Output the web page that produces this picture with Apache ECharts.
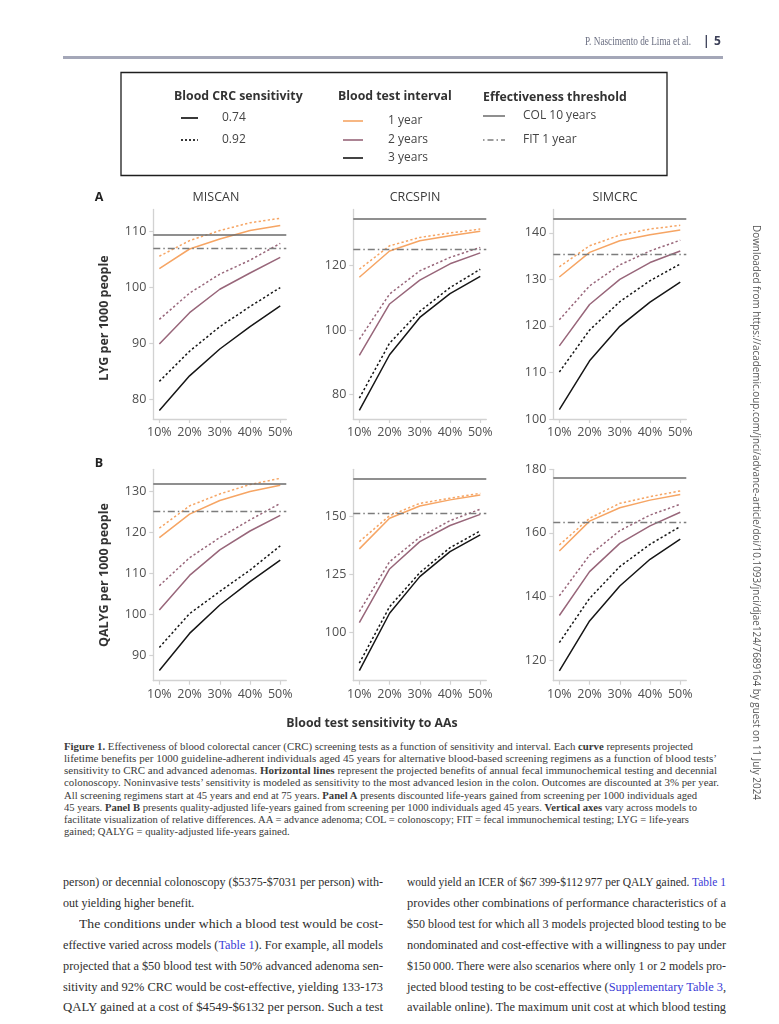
<!DOCTYPE html>
<html><head><meta charset="utf-8">
<script src="https://cdn.jsdelivr.net/npm/echarts@6/dist/echarts.min.js"></script>
<style>
html,body{margin:0;padding:0;background:#fff;}
#page{position:relative;width:779px;height:1024px;overflow:hidden;background:#fff;}
#chart{position:absolute;left:0;top:0;width:779px;height:740px;}
.ln{position:absolute;white-space:nowrap;transform-origin:0 50%;}
.lk{color:#3a3ad6;}
#bar{position:absolute;left:63px;top:56px;width:660px;height:3px;background:#a4a7b8;}
#side{position:absolute;white-space:nowrap;transform-origin:0 0;}
</style></head>
<body><div id="page"><div id="bar"></div><div id="chart"></div></div>
<script>
// ---------- data ----------
const sensitivityAA = [10, 20, 30, 40, 50];
const models = ['MISCAN', 'CRCSPIN', 'SIMCRC'];
const intervals = ['1 year', '2 years', '3 years'];
const crcSens = ['0.74', '0.92'];

// Panel A: LYG per 1000 people
const miscanLYG_1y_074 = [103.4, 106.9, 108.7, 110.2, 111.1];
const miscanLYG_1y_092 = [105.6, 108.4, 110.2, 111.6, 112.4];
const miscanLYG_2y_074 = [89.9, 95.5, 99.7, 102.6, 105.4];
const miscanLYG_2y_092 = [94.3, 99.0, 102.4, 104.9, 107.9];
const miscanLYG_3y_074 = [78.0, 84.2, 89.0, 93.0, 96.7];
const miscanLYG_3y_092 = [83.2, 88.6, 93.0, 96.6, 100.0];

const crcspinLYG_1y_074 = [116.4, 124.6, 127.8, 129.3, 130.7];
const crcspinLYG_1y_092 = [118.9, 126.2, 128.8, 130.2, 131.4];
const crcspinLYG_2y_074 = [92.1, 108.1, 115.5, 120.6, 124.0];
const crcspinLYG_2y_092 = [97.1, 111.2, 118.4, 122.6, 125.7];
const crcspinLYG_3y_074 = [75.0, 92.3, 103.9, 111.3, 116.7];
const crcspinLYG_3y_092 = [78.8, 95.9, 105.8, 113.2, 118.9];

const simcrcLYG_1y_074 = [130.5, 135.8, 138.3, 139.6, 140.6];
const simcrcLYG_1y_092 = [132.7, 137.2, 139.5, 140.8, 141.6];
const simcrcLYG_2y_074 = [115.7, 124.6, 130.0, 133.6, 136.1];
const simcrcLYG_2y_092 = [121.3, 128.6, 133.1, 136.1, 138.4];
const simcrcLYG_3y_074 = [102.0, 112.5, 119.9, 125.1, 129.4];
const simcrcLYG_3y_092 = [110.1, 119.1, 125.2, 129.7, 133.3];

const colLYG = [109.5, 134.7, 143.1];
const fitLYG = [107.1, 125.0, 135.3];

// Panel B: QALYG per 1000 people
const miscanQALYG_1y_074 = [118.7, 124.4, 127.7, 129.9, 131.4];
const miscanQALYG_1y_092 = [121.0, 126.4, 129.3, 131.6, 133.1];
const miscanQALYG_2y_074 = [101.1, 109.5, 115.7, 120.3, 124.1];
const miscanQALYG_2y_092 = [107.0, 113.8, 118.7, 123.0, 127.0];
const miscanQALYG_3y_074 = [86.4, 95.4, 102.3, 108.0, 113.2];
const miscanQALYG_3y_092 = [92.0, 100.2, 105.6, 110.8, 116.7];

const crcspinQALYG_1y_074 = [135.9, 149.0, 154.3, 156.9, 159.0];
const crcspinQALYG_1y_092 = [139.0, 150.1, 155.4, 157.6, 159.7];
const crcspinQALYG_2y_074 = [104.3, 127.3, 139.0, 145.9, 150.7];
const crcspinQALYG_2y_092 = [109.0, 130.4, 140.9, 148.0, 152.9];
const crcspinQALYG_3y_074 = [83.7, 108.3, 124.0, 134.7, 141.9];
const crcspinQALYG_3y_092 = [86.9, 111.1, 125.7, 136.4, 143.6];

const simcrcQALYG_1y_074 = [154.3, 163.7, 167.9, 170.3, 172.1];
const simcrcQALYG_1y_092 = [156.2, 164.6, 169.3, 171.4, 173.2];
const simcrcQALYG_2y_074 = [134.0, 147.8, 156.7, 162.2, 166.5];
const simcrcQALYG_2y_092 = [140.2, 153.0, 160.7, 165.6, 169.0];
const simcrcQALYG_3y_074 = [116.6, 132.3, 143.3, 151.7, 158.0];
const simcrcQALYG_3y_092 = [125.5, 139.4, 149.4, 156.4, 162.0];

const colQALYG = [131.7, 166.1, 177.2];
const fitQALYG = [125.1, 151.0, 163.3];

// axis ticks / ranges
const xTicks = [10, 20, 30, 40, 50];
const yTicksLYG = [[80, 90, 100, 110], [80, 100, 120], [100, 110, 120, 130, 140]];
const yTicksQALYG = [[90, 100, 110, 120, 130], [100, 125, 150], [120, 140, 160, 180]];
const yRangeLYG = [[76.47, 113.97], [72.3, 137.5], [100, 145]];
const yRangeQALYG = [[83.9, 135.3], [79.4, 170.0], [113.5, 180]];

// ---------- build ----------
const panelData = [
  [[miscanLYG_1y_074, miscanLYG_1y_092], [miscanLYG_2y_074, miscanLYG_2y_092], [miscanLYG_3y_074, miscanLYG_3y_092]],
  [[crcspinLYG_1y_074, crcspinLYG_1y_092], [crcspinLYG_2y_074, crcspinLYG_2y_092], [crcspinLYG_3y_074, crcspinLYG_3y_092]],
  [[simcrcLYG_1y_074, simcrcLYG_1y_092], [simcrcLYG_2y_074, simcrcLYG_2y_092], [simcrcLYG_3y_074, simcrcLYG_3y_092]],
  [[miscanQALYG_1y_074, miscanQALYG_1y_092], [miscanQALYG_2y_074, miscanQALYG_2y_092], [miscanQALYG_3y_074, miscanQALYG_3y_092]],
  [[crcspinQALYG_1y_074, crcspinQALYG_1y_092], [crcspinQALYG_2y_074, crcspinQALYG_2y_092], [crcspinQALYG_3y_074, crcspinQALYG_3y_092]],
  [[simcrcQALYG_1y_074, simcrcQALYG_1y_092], [simcrcQALYG_2y_074, simcrcQALYG_2y_092], [simcrcQALYG_3y_074, simcrcQALYG_3y_092]]
];
const colThr = colLYG.concat(colQALYG);
const fitThr = fitLYG.concat(fitQALYG);
const yTicks = yTicksLYG.concat(yTicksQALYG);
const yRange = yRangeLYG.concat(yRangeQALYG);

const FONT = "'Open Sans', 'Noto Sans', sans-serif";
const C_OR = '#f6a564', C_MA = '#98667a', C_BK = '#161616';
const C_COL = '#6a6a6a', C_FIT = '#7c7c7c';
const intervalColors = [C_OR, C_MA, C_BK];
const sensDash = ['solid', [2.3, 2.3]];
const FIT_DASH = [7, 3, 1.5, 3];
const AX = '#d2d2d2', LBL = '#4f4f4f';

const colLeft = [153.3, 353.3, 553.3];
const colW = 133;
const rowTop = [209.5, 469.3];
const rowH = [209.5, 211.4];

const grids = [], xAxes = [], yAxes = [], series = [];
for (let p = 0; p < 6; p++) {
  const r = Math.floor(p / 3), c = p % 3;
  grids.push({ left: colLeft[c], top: rowTop[r], width: colW, height: rowH[r], containLabel: false });
  xAxes.push({
    type: 'value', gridIndex: p, min: 8, max: 52,
    axisLine: { show: true, lineStyle: { color: AX, width: 1.3 } },
    axisTick: { show: true, length: 4, lineStyle: { color: AX, width: 1.2 }, customValues: xTicks },
    axisLabel: { show: true, customValues: xTicks, formatter: v => v + '%', color: LBL, fontSize: 12.5, fontFamily: FONT, margin: 7 },
    splitLine: { show: false }
  });
  yAxes.push({
    type: 'value', gridIndex: p, min: yRange[p][0], max: yRange[p][1],
    axisLine: { show: true, lineStyle: { color: AX, width: 1.3 } },
    axisTick: { show: true, length: 4, lineStyle: { color: AX, width: 1.2 }, customValues: yTicks[p] },
    axisLabel: { show: true, customValues: yTicks[p], color: LBL, fontSize: 12.5, fontFamily: FONT, margin: 7 },
    splitLine: { show: false }
  });
  // thresholds
  series.push({
    type: 'line', xAxisIndex: p, yAxisIndex: p, data: [], silent: true, z: 1,
    markLine: {
      silent: true, symbol: ['none', 'none'], label: { show: false }, animation: false,
      data: [
        { yAxis: colThr[p], lineStyle: { color: C_COL, width: 1.6, type: 'solid' } },
        { yAxis: fitThr[p], lineStyle: { color: C_FIT, width: 1.4, type: FIT_DASH } }
      ]
    }
  });
  for (let i = 0; i < 3; i++) {
    for (let s = 0; s < 2; s++) {
      const arr = panelData[p][i][s];
      series.push({
        name: intervals[i] + ' / ' + crcSens[s],
        type: 'line', xAxisIndex: p, yAxisIndex: p, z: 3,
        data: sensitivityAA.map((x, k) => [x, arr[k]]),
        symbol: 'none', showSymbol: false, smooth: false,
        lineStyle: { color: intervalColors[i], width: 1.5, type: sensDash[s] },
        silent: true
      });
    }
  }
}

function txt(x, y, t, o) {
  o = o || {};
  return {
    type: 'text', x: x, y: y, rotation: o.rot || 0, silent: true,
    style: {
      text: t, fill: o.color || '#333', align: o.align || 'left', verticalAlign: 'middle',
      font: (o.weight || 'normal') + ' ' + (o.size || 12.5) + 'px ' + FONT
    }
  };
}
function seg(x1, y1, x2, y2, color, dash, w) {
  return { type: 'line', silent: true, shape: { x1: x1, y1: y1, x2: x2, y2: y2 },
    style: { stroke: color, lineWidth: w || 1.6, lineDash: dash || null } };
}

const graphics = [
  // legend box
  { type: 'rect', silent: true, shape: { x: 121, y: 72.5, width: 546, height: 103 }, style: { fill: 'none', stroke: '#1e1e1e', lineWidth: 1.3 } },
  txt(174, 96, 'Blood CRC sensitivity', { weight: 'bold', size: 12.3, color: '#333' }),
  txt(338, 96, 'Blood test interval', { weight: 'bold', size: 12.3, color: '#333' }),
  txt(483, 97, 'Effectiveness threshold', { weight: 'bold', size: 12.3, color: '#333' }),
  seg(181, 118, 198, 118, C_BK, null, 1.7), txt(222, 118, crcSens[0], { size: 12, color: '#444' }),
  seg(181, 140, 198, 140, C_BK, [2, 2], 1.7), txt(222, 140, crcSens[1], { size: 12, color: '#444' }),
  seg(343, 121, 363, 121, C_OR, null, 1.6), txt(388, 121, intervals[0], { size: 12, color: '#444' }),
  seg(343, 140, 363, 140, C_MA, null, 1.6), txt(388, 140, intervals[1], { size: 12, color: '#444' }),
  seg(343, 158, 363, 158, C_BK, null, 1.6), txt(388, 158, intervals[2], { size: 12, color: '#444' }),
  seg(483, 116, 505, 116, C_COL, null, 1.5), txt(523, 116, 'COL 10 years', { size: 12, color: '#444' }),
  seg(483, 140, 505, 140, C_FIT, [1.5, 3, 6, 3], 1.5), txt(523, 140, 'FIT 1 year', { size: 12, color: '#444' }),
  // panel letters and model titles
  txt(99, 197, 'A', { weight: 'bold', size: 12.5, align: 'center', color: '#222' }),
  txt(99, 463, 'B', { weight: 'bold', size: 12.5, align: 'center', color: '#222' }),
  txt(216, 197, models[0], { size: 12.5, align: 'center', color: '#3a3a3a' }),
  txt(415, 197, models[1], { size: 12.5, align: 'center', color: '#3a3a3a' }),
  txt(615, 197, models[2], { size: 12.5, align: 'center', color: '#3a3a3a' }),
  // axis titles
  txt(104, 318, 'LYG per 1000 people', { weight: 'bold', size: 12.5, align: 'center', rot: Math.PI / 2, color: '#333' }),
  txt(104, 575, 'QALYG per 1000 people', { weight: 'bold', size: 12.5, align: 'center', rot: Math.PI / 2, color: '#333' }),
  txt(372, 723, 'Blood test sensitivity to AAs', { weight: 'bold', size: 12.3, align: 'center', color: '#333' })
];

const chart = echarts.init(document.getElementById('chart'), null, { renderer: 'canvas' });
chart.setOption({
  backgroundColor: 'transparent',
  animation: false,
  grid: grids, xAxis: xAxes, yAxis: yAxes, series: series,
  graphic: { elements: graphics }
});

// ---------- page text ----------
const page = document.getElementById('page');
function place(html, x, y, fs, family, weight, color, target, scaleRef) {
  const d = document.createElement('div');
  d.className = 'ln';
  d.style.left = x + 'px';
  d.style.top = (y - fs * 0.6) + 'px';
  d.style.font = weight + ' ' + fs + 'px/' + (fs * 1.2) + 'px ' + family;
  d.style.color = color;
  d.innerHTML = html;
  page.appendChild(d);
  const w = d.getBoundingClientRect().width;
  const s = target ? target / w : (scaleRef || 1);
  d.style.transform = 'scaleX(' + s + ')';
  return s;
}
const SERIF = "'Liberation Serif', 'DejaVu Serif', serif";
const SANS = "'Open Sans', 'Noto Sans', sans-serif";

// header
place('P. Nascimento de Lima et al.', 585, 41.5, 12.5, SERIF, 'normal', '#6b6f82', 106);
place('|', 703, 41.5, 12, SANS, 'bold', '#3c4058', null, 1);
place('5', 714, 41.5, 12, SANS, 'bold', '#3c4058', null, 1);

// caption
const captionLines = [
  '<b>Figure 1.</b> Effectiveness of blood colorectal cancer (CRC) screening tests as a function of sensitivity and interval. Each <b>curve</b> represents projected',
  'lifetime benefits per 1000 guideline-adherent individuals aged 45 years for alternative blood-based screening regimens as a function of blood tests\u2019',
  'sensitivity to CRC and advanced adenomas. <b>Horizontal lines</b> represent the projected benefits of annual fecal immunochemical testing and decennial',
  'colonoscopy. Noninvasive tests\u2019 sensitivity is modeled as sensitivity to the most advanced lesion in the colon. Outcomes are discounted at 3% per year.',
  'All screening regimens start at 45 years and end at 75 years. <b>Panel A</b> presents discounted life-years gained from screening per 1000 individuals aged',
  '45 years. <b>Panel B</b> presents quality-adjusted life-years gained from screening per 1000 individuals aged 45 years. <b>Vertical axes</b> vary across models to',
  'facilitate visualization of relative differences. AA = advance adenoma; COL = colonoscopy; FIT = fecal immunochemical testing; LYG = life-years',
  'gained; QALYG = quality-adjusted life-years gained.'
];
const captionW = [629, 653, 653, 655, 633, 633, 625, 0];
let capS = 1;
captionLines.forEach((t, i) => { capS = place(t, 64, 747 + i * 12.2, 10.5, SERIF, 'normal', '#3a3a3a', captionW[i] || null, capS); });

// body text
const leftLines = [
  ['person) or decennial colonoscopy ($5375-$7031 per person) with-', 63, 320],
  ['out yielding higher benefit.', 63, 0],
  ['The conditions under which a blood test would be cost-', 79, 304],
  ['effective varied across models (<span class="lk">Table 1</span>). For example, all models', 63, 320],
  ['projected that a $50 blood test with 50% advanced adenoma sen-', 63, 320],
  ['sitivity and 92% CRC would be cost-effective, yielding 133-173', 63, 320],
  ['QALY gained at a cost of $4549-$6132 per person. Such a test', 63, 320]
];
const rightLines = [
  ['would yield an ICER of $67\u2009399-$112\u2009977 per QALY gained. <span class="lk">Table 1</span>', 407, 319],
  ['provides other combinations of performance characteristics of a', 407, 319],
  ['$50 blood test for which all 3 models projected blood testing to be', 407, 319],
  ['nondominated and cost-effective with a willingness to pay under', 407, 319],
  ['$150\u2009000. There were also scenarios where only 1 or 2 models pro-', 407, 319],
  ['jected blood testing to be cost-effective (<span class="lk">Supplementary Table 3</span>,', 407, 319],
  ['available online). The maximum unit cost at which blood testing', 407, 319]
];
const bodyY = [882, 903, 924.5, 945.5, 966, 987, 1007.5];
let prevS = 1;
leftLines.forEach((l, i) => { prevS = place(l[0], l[1], bodyY[i], 13.5, SERIF, 'normal', '#2e2e2e', l[2] || null, prevS); });
rightLines.forEach((l, i) => place(l[0], l[1], bodyY[i], 13.5, SERIF, 'normal', '#2e2e2e', l[2]));

// side text
const side = document.createElement('div');
side.id = 'side';
side.style.font = 'normal 10px/12px ' + SANS;
side.style.color = '#555';
side.textContent = 'Downloaded from https://academic.oup.com/jnci/advance-article/doi/10.1093/jnci/djae124/7689164 by guest on 11 July 2024';
page.appendChild(side);
const sw = side.getBoundingClientRect().width;
const sScale = 575 / sw;
side.style.left = '763px';
side.style.top = '225px';
side.style.transform = 'rotate(90deg) scaleX(' + sScale + ')';
</script>
</body></html>
